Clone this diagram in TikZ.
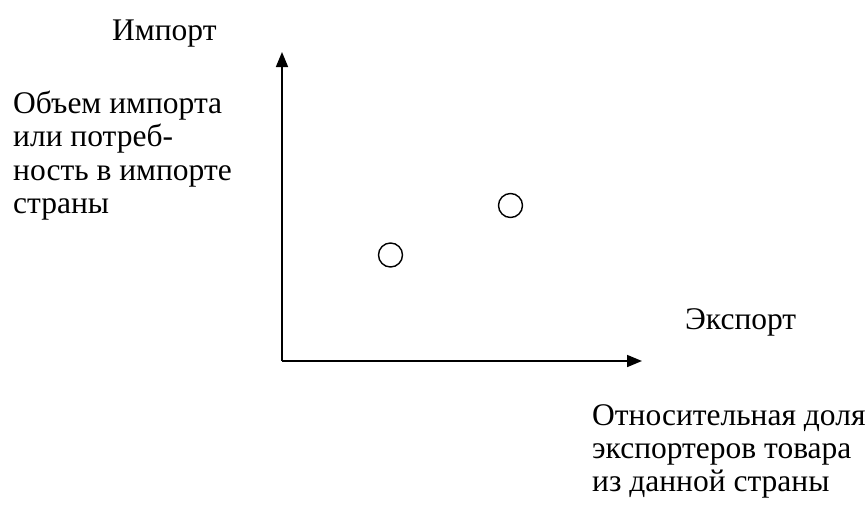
\documentclass[tikz,border=0pt]{standalone}
\usepackage{fontspec}
\setmainfont{Liberation Serif}
\usetikzlibrary{arrows.meta}
\begin{document}
\begin{tikzpicture}[x=1pt,y=-1pt,
  lbl/.style={inner sep=0pt,font=\fontsize{31.5}{33.5}\selectfont,anchor=base west},
  axis/.style={line width=1.6pt,-{Triangle[length=15pt,width=12pt]}},
  pt/.style={circle,draw,line width=1.4pt,minimum size=24pt,inner sep=0pt}]
\useasboundingbox (0,0) rectangle (868,504);
\coordinate (o) at (282,361);
\coordinate (ytip) at (282,52);
\coordinate (xtip) at (642,361);
\draw[axis] (o) -- (ytip);
\draw[axis] (o) -- (xtip);
\node[pt] (p1) at (390.5,255) {};
\node[pt] (p2) at (510.5,205.5) {};
\node[lbl] (imp) at (112,40) {Импорт};
\node[lbl] (vol1) at (13,113) {Объем импорта};
\node[lbl] (vol2) at (13,146.5) {или потреб-};
\node[lbl] (vol3) at (13,180) {ность в импорте};
\node[lbl] (vol4) at (13,213) {страны};
\node[lbl] (exp) at (685,329) {Экспорт};
\node[lbl] (sh1) at (592,425) {Относительная доля};
\node[lbl] (sh2) at (592,458) {экспортеров товара};
\node[lbl] (sh3) at (592,491) {из данной страны};
\end{tikzpicture}
\end{document}
